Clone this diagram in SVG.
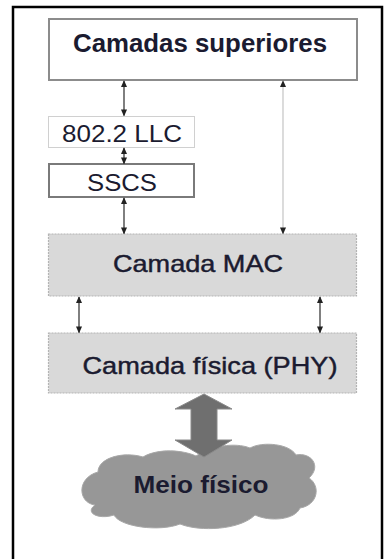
<svg xmlns="http://www.w3.org/2000/svg" width="385" height="559" viewBox="0 0 385 559">
  <defs>
    <marker id="head" viewBox="0 0 8 8" refX="7" refY="4" markerWidth="7" markerHeight="7" markerUnits="userSpaceOnUse" orient="auto-start-reverse">
      <path d="M0,0.5 L8,4 L0,7.5 Z" fill="#222"/>
    </marker>
    <filter id="soft" x="-5%" y="-5%" width="110%" height="110%">
      <feGaussianBlur stdDeviation="0.5"/>
    </filter>
  </defs>
  <style>
    .lbl { font-family: "Liberation Sans", Arial, sans-serif; fill: #1b1b30; text-anchor: middle; }
    .bold { font-weight: bold; }
    .semi { stroke: #1b1b30; stroke-width: 0.45; }
    .box { fill: #ffffff; }
    .grey { fill: #d9d9d9; stroke: #b4b4b4; stroke-width: 1.2; stroke-dasharray: 2 1; }
    .link { fill: none; stroke: #2a2a2a; stroke-width: 1.2; marker-start: url(#head); marker-end: url(#head); }
  </style>

  <!-- outer frame -->
  <path d="M13,560 V7 H382 V560" fill="none" stroke="#000" stroke-width="2.5"/>

  <g id="camadas-superiores">
    <rect class="box" x="49" y="19" width="308" height="61" stroke="#8c8c8c" stroke-width="2" filter="url(#soft)"/>
    <text class="lbl bold" x="200" y="52" font-size="25.5" textLength="254" lengthAdjust="spacingAndGlyphs">Camadas superiores</text>
  </g>

  <g id="llc">
    <rect class="box" x="48.5" y="116.5" width="146" height="31" stroke="#d0d0d0" stroke-width="1"/>
    <text class="lbl" x="122" y="141.5" font-size="23.5" textLength="120" lengthAdjust="spacingAndGlyphs">802.2 LLC</text>
  </g>

  <g id="sscs">
    <rect class="box" x="49" y="164" width="145" height="33" stroke="#7a7a7a" stroke-width="2" filter="url(#soft)"/>
    <text class="lbl" x="122" y="191" font-size="23.5" textLength="70" lengthAdjust="spacingAndGlyphs">SSCS</text>
  </g>

  <g id="camada-mac">
    <rect class="grey" x="48.5" y="234" width="308" height="62"/>
    <text class="lbl semi" x="198" y="272" font-size="24" textLength="170" lengthAdjust="spacingAndGlyphs">Camada MAC</text>
  </g>

  <g id="camada-fisica">
    <rect class="grey" x="48.5" y="333" width="308" height="60"/>
    <text class="lbl semi" x="210" y="374" font-size="24.5" textLength="255" lengthAdjust="spacingAndGlyphs">Camada física (PHY)</text>
  </g>

  <g id="meio-fisico">
    <path d="M95,505 C78,503 76,478 98,472 C98,458 123,451 143,457 C158,448 183,450 196,456 C210,446 235,442 250,448 C263,441 290,444 296,455 C311,452 322,466 309,478 C321,486 318,505 300,508 C295,520 270,522 255,515 C240,530 200,532 180,524 C160,532 120,527 114,515 C99,520 84,513 95,505 Z" fill="#979797" stroke="#a8a8a8" stroke-width="1" filter="url(#soft)"/>
    <text class="lbl bold" x="201" y="493" font-size="24" textLength="135" lengthAdjust="spacingAndGlyphs">Meio físico</text>
  </g>

  <g id="connectors">
    <line class="link" x1="124" y1="81" x2="124" y2="115.5"/>
    <line class="link" x1="124" y1="148" x2="124" y2="163.5"/>
    <line class="link" x1="124" y1="198" x2="124" y2="233.5"/>
    <line class="link" x1="283" y1="81" x2="283" y2="233.5" style="stroke:#c4c4c4"/>
    <line class="link" x1="79" y1="297" x2="79" y2="332.5"/>
    <line class="link" x1="320" y1="297" x2="320" y2="332.5"/>
    <!-- wide double arrow between the physical layer and the medium -->
    <path d="M204,394 L232,409 L217,409 L217,440 L232,440 L204,457 L175,440 L191,440 L191,409 L175,409 Z" fill="#6f6f6f" stroke="#8a8a8a" stroke-width="1"/>
  </g>
</svg>
